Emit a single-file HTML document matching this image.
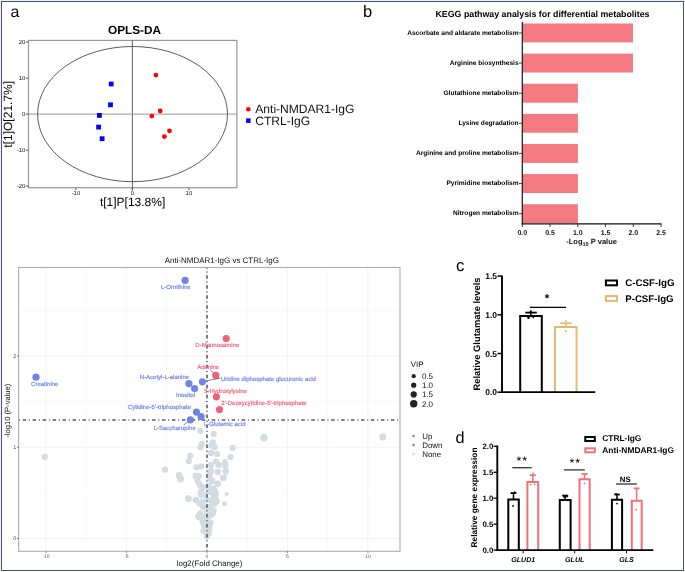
<!DOCTYPE html>
<html><head><meta charset="utf-8"><style>
html,body{margin:0;padding:0;background:#fff;}
body{width:685px;height:572px;overflow:hidden;}
svg{display:block;font-family:"Liberation Sans", sans-serif;text-rendering:geometricPrecision;will-change:transform;}
</style></head><body>
<svg width="685" height="572" viewBox="0 0 685 572">
<rect x="0" y="0" width="685" height="572" fill="#ffffff" stroke="none" stroke-width="1"/>
<rect x="0" y="0" width="685" height="1" fill="#eef0f4" stroke="none" stroke-width="1"/>
<rect x="0" y="0" width="1" height="572" fill="#eef0f4" stroke="none" stroke-width="1"/>
<rect x="1.5" y="1.5" width="682" height="569" fill="none" stroke="#4a5273" stroke-width="1"/>
<text x="10.4" y="16.7" font-size="16" text-anchor="start" fill="#000">a</text>
<text x="134.5" y="34.3" font-size="11.8" text-anchor="middle" fill="#000" font-weight="bold">OPLS-DA</text>
<rect x="28.5" y="40.4" width="208.4" height="147.3" fill="none" stroke="#979797" stroke-width="1.2"/>
<line x1="132.4" y1="40.5" x2="132.4" y2="190.5" stroke="#505050" stroke-width="0.9"/>
<line x1="28.5" y1="114.1" x2="236.9" y2="114.1" stroke="#979797" stroke-width="1"/>
<ellipse cx="132.55" cy="114.1" rx="94.95" ry="67.6" fill="none" stroke="#333" stroke-width="0.8"/>
<line x1="25.8" y1="42.099999999999994" x2="28.5" y2="42.099999999999994" stroke="#444" stroke-width="0.9"/>
<text x="25.4" y="44.199999999999996" font-size="5.9" text-anchor="end" fill="#111">20</text>
<line x1="25.8" y1="78.1" x2="28.5" y2="78.1" stroke="#444" stroke-width="0.9"/>
<text x="25.4" y="80.19999999999999" font-size="5.9" text-anchor="end" fill="#111">10</text>
<line x1="25.8" y1="114.1" x2="28.5" y2="114.1" stroke="#444" stroke-width="0.9"/>
<text x="25.4" y="116.19999999999999" font-size="5.9" text-anchor="end" fill="#111">0</text>
<line x1="25.8" y1="150.1" x2="28.5" y2="150.1" stroke="#444" stroke-width="0.9"/>
<text x="25.4" y="152.2" font-size="5.9" text-anchor="end" fill="#111">-10</text>
<line x1="25.8" y1="186.1" x2="28.5" y2="186.1" stroke="#444" stroke-width="0.9"/>
<text x="25.4" y="188.2" font-size="5.9" text-anchor="end" fill="#111">-20</text>
<line x1="75.9" y1="187.7" x2="75.9" y2="190.2" stroke="#444" stroke-width="0.9"/>
<text x="75.9" y="194.6" font-size="5.9" text-anchor="middle" fill="#111">-10</text>
<line x1="132.4" y1="187.7" x2="132.4" y2="190.2" stroke="#444" stroke-width="0.9"/>
<text x="132.4" y="194.6" font-size="5.9" text-anchor="middle" fill="#111">0</text>
<line x1="188.9" y1="187.7" x2="188.9" y2="190.2" stroke="#444" stroke-width="0.9"/>
<text x="188.9" y="194.6" font-size="5.9" text-anchor="middle" fill="#111">10</text>
<text x="132.6" y="205.8" font-size="12" text-anchor="middle" fill="#000">t[1]P[13.8%]</text>
<text x="12.2" y="114.3" font-size="12" text-anchor="middle" fill="#000" transform="rotate(-90 12.2 114.3)">t[1]O[21.7%]</text>
<rect x="108.8" y="81.6" width="4.8" height="4.8" fill="#0000ff" stroke="none" stroke-width="1"/>
<rect x="108.1" y="102.39999999999999" width="4.8" height="4.8" fill="#0000ff" stroke="none" stroke-width="1"/>
<rect x="97.0" y="113.0" width="4.8" height="4.8" fill="#0000ff" stroke="none" stroke-width="1"/>
<rect x="96.19999999999999" y="124.69999999999999" width="4.8" height="4.8" fill="#0000ff" stroke="none" stroke-width="1"/>
<rect x="99.69999999999999" y="136.29999999999998" width="4.8" height="4.8" fill="#0000ff" stroke="none" stroke-width="1"/>
<circle cx="155.9" cy="75.1" r="2.4" fill="#ff0000"/>
<circle cx="160.2" cy="111.0" r="2.4" fill="#ff0000"/>
<circle cx="151.8" cy="116.1" r="2.4" fill="#ff0000"/>
<circle cx="169.5" cy="130.8" r="2.4" fill="#ff0000"/>
<circle cx="164.4" cy="136.6" r="2.4" fill="#ff0000"/>
<circle cx="248.3" cy="109.2" r="2.3" fill="#ff0000"/>
<rect x="246.1" y="118.4" width="4.5" height="4.5" fill="#0000ff" stroke="none" stroke-width="1"/>
<text x="255.3" y="113.1" font-size="12.05" text-anchor="start" fill="#111">Anti-NMDAR1-IgG</text>
<text x="255.3" y="124.5" font-size="12.05" text-anchor="start" fill="#111">CTRL-IgG</text>
<text x="363.0" y="16.8" font-size="16.5" text-anchor="start" fill="#000">b</text>
<text x="542.5" y="17.1" font-size="8.82" text-anchor="middle" fill="#000" font-weight="bold">KEGG pathway analysis for differential metabolites</text>
<rect x="522.8" y="23.5" width="110.2" height="18.9" fill="#f27a80" stroke="none" stroke-width="1"/>
<line x1="519" y1="32.95" x2="522.3" y2="32.95" stroke="#111" stroke-width="0.8"/>
<text x="518.6" y="34.75" font-size="6.6" text-anchor="end" fill="#000" font-weight="bold">Ascorbate and aldarate metabolism</text>
<rect x="522.8" y="53.620000000000005" width="110.2" height="18.9" fill="#f27a80" stroke="none" stroke-width="1"/>
<line x1="519" y1="63.07000000000001" x2="522.3" y2="63.07000000000001" stroke="#111" stroke-width="0.8"/>
<text x="518.6" y="64.87" font-size="6.6" text-anchor="end" fill="#000" font-weight="bold">Arginine biosynthesis</text>
<rect x="522.8" y="83.74000000000001" width="55.1" height="18.9" fill="#f27a80" stroke="none" stroke-width="1"/>
<line x1="519" y1="93.19000000000001" x2="522.3" y2="93.19000000000001" stroke="#111" stroke-width="0.8"/>
<text x="518.6" y="94.99000000000001" font-size="6.6" text-anchor="end" fill="#000" font-weight="bold">Glutathione metabolism</text>
<rect x="522.8" y="113.86" width="55.1" height="18.9" fill="#f27a80" stroke="none" stroke-width="1"/>
<line x1="519" y1="123.31" x2="522.3" y2="123.31" stroke="#111" stroke-width="0.8"/>
<text x="518.6" y="125.11" font-size="6.6" text-anchor="end" fill="#000" font-weight="bold">Lysine degradation</text>
<rect x="522.8" y="143.98000000000002" width="55.1" height="18.9" fill="#f27a80" stroke="none" stroke-width="1"/>
<line x1="519" y1="153.43" x2="522.3" y2="153.43" stroke="#111" stroke-width="0.8"/>
<text x="518.6" y="155.23000000000002" font-size="6.6" text-anchor="end" fill="#000" font-weight="bold">Arginine and proline metabolism</text>
<rect x="522.8" y="174.1" width="55.1" height="18.9" fill="#f27a80" stroke="none" stroke-width="1"/>
<line x1="519" y1="183.54999999999998" x2="522.3" y2="183.54999999999998" stroke="#111" stroke-width="0.8"/>
<text x="518.6" y="185.35" font-size="6.6" text-anchor="end" fill="#000" font-weight="bold">Pyrimidine metabolism</text>
<rect x="522.8" y="204.22" width="55.1" height="18.9" fill="#f27a80" stroke="none" stroke-width="1"/>
<line x1="519" y1="213.67" x2="522.3" y2="213.67" stroke="#111" stroke-width="0.8"/>
<text x="518.6" y="215.47" font-size="6.6" text-anchor="end" fill="#000" font-weight="bold">Nitrogen metabolism</text>
<line x1="522.3" y1="22" x2="522.3" y2="224.5" stroke="#111" stroke-width="1.2"/>
<line x1="521.8" y1="223.9" x2="661.5" y2="223.9" stroke="#111" stroke-width="1.3"/>
<line x1="522.3" y1="224" x2="522.3" y2="227" stroke="#111" stroke-width="0.8"/>
<text x="522.3" y="235" font-size="7" text-anchor="middle" fill="#111" font-weight="bold">0.0</text>
<line x1="550.05" y1="224" x2="550.05" y2="227" stroke="#111" stroke-width="0.8"/>
<text x="550.05" y="235" font-size="7" text-anchor="middle" fill="#111" font-weight="bold">0.5</text>
<line x1="577.8" y1="224" x2="577.8" y2="227" stroke="#111" stroke-width="0.8"/>
<text x="577.8" y="235" font-size="7" text-anchor="middle" fill="#111" font-weight="bold">1.0</text>
<line x1="605.55" y1="224" x2="605.55" y2="227" stroke="#111" stroke-width="0.8"/>
<text x="605.55" y="235" font-size="7" text-anchor="middle" fill="#111" font-weight="bold">1.5</text>
<line x1="633.3" y1="224" x2="633.3" y2="227" stroke="#111" stroke-width="0.8"/>
<text x="633.3" y="235" font-size="7" text-anchor="middle" fill="#111" font-weight="bold">2.0</text>
<line x1="661.05" y1="224" x2="661.05" y2="227" stroke="#111" stroke-width="0.8"/>
<text x="661.05" y="235" font-size="7" text-anchor="middle" fill="#111" font-weight="bold">2.5</text>
<text x="591.6" y="243.8" font-size="7.5" text-anchor="middle" font-weight="bold" fill="#111">-Log<tspan font-size="5.6" dy="2">10</tspan><tspan dy="-2"> P value</tspan></text>
<text x="456.0" y="270.8" font-size="16.8" text-anchor="start" fill="#000">c</text>
<line x1="497.5" y1="276.09999999999997" x2="502" y2="276.09999999999997" stroke="#000" stroke-width="1.5"/>
<text x="497" y="279.2" font-size="8.5" text-anchor="end" fill="#000" font-weight="bold">1.5</text>
<line x1="497.5" y1="314.79999999999995" x2="502" y2="314.79999999999995" stroke="#000" stroke-width="1.5"/>
<text x="497" y="317.9" font-size="8.5" text-anchor="end" fill="#000" font-weight="bold">1.0</text>
<line x1="497.5" y1="353.5" x2="502" y2="353.5" stroke="#000" stroke-width="1.5"/>
<text x="497" y="356.6" font-size="8.5" text-anchor="end" fill="#000" font-weight="bold">0.5</text>
<line x1="497.5" y1="392.2" x2="502" y2="392.2" stroke="#000" stroke-width="1.5"/>
<text x="497" y="395.3" font-size="8.5" text-anchor="end" fill="#000" font-weight="bold">0.0</text>
<path d="M520.2 392.2 V316 H541.8 V392.2" fill="none" stroke="#000" stroke-width="2"/>
<path d="M555 392.2 V327 H576.5 V392.2" fill="none" stroke="#eab674" stroke-width="2"/>
<line x1="502" y1="275.5" x2="502" y2="393" stroke="#000" stroke-width="1.9"/>
<line x1="501" y1="392.2" x2="595.3" y2="392.2" stroke="#000" stroke-width="1.8"/>
<line x1="530.8" y1="316" x2="530.8" y2="312.5" stroke="#000" stroke-width="1.5"/>
<line x1="525.2" y1="312.6" x2="536.8" y2="312.6" stroke="#000" stroke-width="1.8"/>
<circle cx="530.8" cy="311.3" r="1.1" fill="#000"/>
<circle cx="528.5" cy="317.8" r="1.3" fill="#000"/>
<circle cx="533.4" cy="317.3" r="0.9" fill="#000"/>
<line x1="566" y1="327" x2="566" y2="323.2" stroke="#eab674" stroke-width="1.5"/>
<line x1="560.3" y1="323.2" x2="571.5" y2="323.2" stroke="#eab674" stroke-width="1.8"/>
<circle cx="565.8" cy="320.9" r="1.0" fill="#eab674"/>
<circle cx="565.8" cy="331" r="1.0" fill="#eab674"/>
<line x1="529.8" y1="307.3" x2="566" y2="307.3" stroke="#000" stroke-width="1.3"/>
<text x="547.0" y="301.6" font-size="11.5" text-anchor="middle" fill="#000" font-weight="bold">*</text>
<text x="479.8" y="334" font-size="9.4" text-anchor="middle" fill="#000" font-weight="bold" transform="rotate(-90 479.8 334)">Relative Glutamate levels</text>
<rect x="605.9" y="280.5" width="11.1" height="4.8" fill="none" stroke="#000" stroke-width="2"/>
<rect x="605.9" y="296.1" width="11.1" height="4.8" fill="none" stroke="#eab674" stroke-width="2"/>
<text x="625.2" y="285.6" font-size="9.75" text-anchor="start" fill="#000" font-weight="bold">C-CSF-IgG</text>
<text x="625.2" y="301.5" font-size="9.7" text-anchor="start" fill="#000" font-weight="bold">P-CSF-IgG</text>
<text x="455.6" y="442.7" font-size="16.3" text-anchor="start" fill="#000">d</text>
<line x1="493.5" y1="446.3" x2="497.3" y2="446.3" stroke="#000" stroke-width="1.3"/>
<text x="493.3" y="449.0" font-size="7.8" text-anchor="end" fill="#000" font-weight="bold">2.0</text>
<line x1="493.5" y1="472.25" x2="497.3" y2="472.25" stroke="#000" stroke-width="1.3"/>
<text x="493.3" y="474.95" font-size="7.8" text-anchor="end" fill="#000" font-weight="bold">1.5</text>
<line x1="493.5" y1="498.20000000000005" x2="497.3" y2="498.20000000000005" stroke="#000" stroke-width="1.3"/>
<text x="493.3" y="500.90000000000003" font-size="7.8" text-anchor="end" fill="#000" font-weight="bold">1.0</text>
<line x1="493.5" y1="524.15" x2="497.3" y2="524.15" stroke="#000" stroke-width="1.3"/>
<text x="493.3" y="526.85" font-size="7.8" text-anchor="end" fill="#000" font-weight="bold">0.5</text>
<line x1="493.5" y1="550.1" x2="497.3" y2="550.1" stroke="#000" stroke-width="1.3"/>
<text x="493.3" y="552.8000000000001" font-size="7.8" text-anchor="end" fill="#000" font-weight="bold">0.0</text>
<text x="477" y="497.5" font-size="8.33" text-anchor="middle" fill="#000" font-weight="bold" transform="rotate(-90 477 497.5)">Relative gene expression</text>
<path d="M508.3 550.1 V499.4 H518.8 V550.1" fill="none" stroke="#000" stroke-width="2" stroke-linejoin="miter"/>
<path d="M527.4 550.1 V482.1 H538.2 V550.1" fill="none" stroke="#f0707a" stroke-width="2" stroke-linejoin="miter"/>
<path d="M559.8 550.1 V499.9 H570.6 V550.1" fill="none" stroke="#000" stroke-width="2" stroke-linejoin="miter"/>
<path d="M579.5 550.1 V479.3 H589.7 V550.1" fill="none" stroke="#f0707a" stroke-width="2" stroke-linejoin="miter"/>
<path d="M611.9 550.1 V499.8 H622.1 V550.1" fill="none" stroke="#000" stroke-width="2" stroke-linejoin="miter"/>
<path d="M631.8 550.1 V500.7 H641.7 V550.1" fill="none" stroke="#f0707a" stroke-width="2" stroke-linejoin="miter"/>
<line x1="497.3" y1="445.5" x2="497.3" y2="551" stroke="#000" stroke-width="1.9"/>
<line x1="496.3" y1="550.1" x2="653.3" y2="550.1" stroke="#000" stroke-width="1.8"/>
<line x1="513.5" y1="499" x2="513.5" y2="493.1" stroke="#000" stroke-width="1.5"/>
<line x1="510.5" y1="493.1" x2="516.5" y2="493.1" stroke="#000" stroke-width="1.8"/>
<line x1="532.8" y1="482" x2="532.8" y2="475.2" stroke="#f0707a" stroke-width="1.5"/>
<line x1="529.8" y1="475.2" x2="535.8" y2="475.2" stroke="#f0707a" stroke-width="1.8"/>
<line x1="565.2" y1="499.5" x2="565.2" y2="495.6" stroke="#000" stroke-width="1.5"/>
<line x1="562.2" y1="495.6" x2="568.2" y2="495.6" stroke="#000" stroke-width="1.8"/>
<line x1="584.6" y1="480" x2="584.6" y2="474.0" stroke="#f0707a" stroke-width="1.5"/>
<line x1="581.6" y1="474.0" x2="587.6" y2="474.0" stroke="#f0707a" stroke-width="1.8"/>
<line x1="617" y1="499.5" x2="617" y2="494.5" stroke="#000" stroke-width="1.5"/>
<line x1="614.2" y1="494.5" x2="619.8" y2="494.5" stroke="#000" stroke-width="1.8"/>
<line x1="636.6" y1="500.5" x2="636.6" y2="488.4" stroke="#f0707a" stroke-width="1.5"/>
<line x1="633.6" y1="488.4" x2="639.6" y2="488.4" stroke="#f0707a" stroke-width="1.8"/>
<circle cx="513.1" cy="506" r="0.9" fill="#000"/>
<circle cx="514.6" cy="492.2" r="0.9" fill="#000"/>
<circle cx="533" cy="473.5" r="0.9" fill="#f0707a"/>
<circle cx="530.5" cy="484.8" r="0.9" fill="#f0707a"/>
<circle cx="534.7" cy="484.3" r="0.9" fill="#f0707a"/>
<circle cx="584.5" cy="483.5" r="0.9" fill="#f0707a"/>
<circle cx="564" cy="497" r="0.9" fill="#000"/>
<circle cx="567" cy="496.5" r="0.9" fill="#000"/>
<circle cx="617" cy="503.6" r="0.9" fill="#000"/>
<circle cx="636.2" cy="509.7" r="0.9" fill="#f0707a"/>
<circle cx="616" cy="493.8" r="0.9" fill="#000"/>
<line x1="512.3" y1="467.7" x2="531.7" y2="467.7" stroke="#333" stroke-width="1.3"/>
<text x="522.2" y="465.4" font-size="12.5" text-anchor="middle" fill="#000" letter-spacing="0.8">**</text>
<line x1="564.1" y1="469.9" x2="584.8" y2="469.9" stroke="#333" stroke-width="1.3"/>
<text x="575.2" y="467.2" font-size="12.5" text-anchor="middle" fill="#000" letter-spacing="0.8">**</text>
<line x1="616.1" y1="484" x2="636.9" y2="484" stroke="#333" stroke-width="1.3"/>
<text x="625.2" y="481.9" font-size="7.8" text-anchor="middle" fill="#000" font-weight="bold">NS</text>
<line x1="523.2" y1="550.1" x2="523.2" y2="553.3" stroke="#000" stroke-width="1"/>
<text x="523.2" y="562.3" font-size="7.1" text-anchor="middle" fill="#000" font-weight="bold" font-style="italic">GLUD1</text>
<line x1="574.7" y1="550.1" x2="574.7" y2="553.3" stroke="#000" stroke-width="1"/>
<text x="574.7" y="562.3" font-size="7.1" text-anchor="middle" fill="#000" font-weight="bold" font-style="italic">GLUL</text>
<line x1="626.5" y1="550.1" x2="626.5" y2="553.3" stroke="#000" stroke-width="1"/>
<text x="626.5" y="562.3" font-size="7.1" text-anchor="middle" fill="#000" font-weight="bold" font-style="italic">GLS</text>
<rect x="585.3" y="437" width="9.5" height="4" fill="none" stroke="#000" stroke-width="2"/>
<rect x="585.3" y="448.3" width="9.5" height="4" fill="none" stroke="#f0707a" stroke-width="2"/>
<text x="602.3" y="441.2" font-size="8.4" text-anchor="start" fill="#000" font-weight="bold">CTRL-IgG</text>
<text x="602.3" y="453.3" font-size="8.38" text-anchor="start" fill="#000" font-weight="bold">Anti-NMDAR1-IgG</text>
<clipPath id="vc"><rect x="18.6" y="267.5" width="381.4" height="283.79999999999995"/></clipPath>
<line x1="45.900000000000006" y1="267.5" x2="45.900000000000006" y2="551.3" stroke="#ebebeb" stroke-width="0.6"/>
<line x1="86.14999999999999" y1="267.5" x2="86.14999999999999" y2="551.3" stroke="#f4f4f4" stroke-width="0.6"/>
<line x1="126.4" y1="267.5" x2="126.4" y2="551.3" stroke="#ebebeb" stroke-width="0.6"/>
<line x1="166.65" y1="267.5" x2="166.65" y2="551.3" stroke="#f4f4f4" stroke-width="0.6"/>
<line x1="206.9" y1="267.5" x2="206.9" y2="551.3" stroke="#ebebeb" stroke-width="0.6"/>
<line x1="247.15" y1="267.5" x2="247.15" y2="551.3" stroke="#f4f4f4" stroke-width="0.6"/>
<line x1="287.4" y1="267.5" x2="287.4" y2="551.3" stroke="#ebebeb" stroke-width="0.6"/>
<line x1="327.65000000000003" y1="267.5" x2="327.65000000000003" y2="551.3" stroke="#f4f4f4" stroke-width="0.6"/>
<line x1="367.9" y1="267.5" x2="367.9" y2="551.3" stroke="#ebebeb" stroke-width="0.6"/>
<line x1="18.6" y1="538.5" x2="400.0" y2="538.5" stroke="#ebebeb" stroke-width="0.6"/>
<line x1="18.6" y1="492.85" x2="400.0" y2="492.85" stroke="#f4f4f4" stroke-width="0.6"/>
<line x1="18.6" y1="447.2" x2="400.0" y2="447.2" stroke="#ebebeb" stroke-width="0.6"/>
<line x1="18.6" y1="401.55" x2="400.0" y2="401.55" stroke="#f4f4f4" stroke-width="0.6"/>
<line x1="18.6" y1="355.9" x2="400.0" y2="355.9" stroke="#ebebeb" stroke-width="0.6"/>
<line x1="18.6" y1="310.25" x2="400.0" y2="310.25" stroke="#f4f4f4" stroke-width="0.6"/>
<g clip-path="url(#vc)">
<circle cx="200.4" cy="430.8" r="3.1" fill="#d3dbe3"/>
<circle cx="213.7" cy="433.9" r="3.1" fill="#d3dbe3"/>
<circle cx="201.8" cy="443.8" r="3.1" fill="#d3dbe3"/>
<circle cx="200.4" cy="447.3" r="3.1" fill="#d3dbe3"/>
<circle cx="212.9" cy="442.3" r="3.1" fill="#d3dbe3"/>
<circle cx="211.4" cy="445.7" r="3.1" fill="#d3dbe3"/>
<circle cx="214.8" cy="447.1" r="3.1" fill="#d3dbe3"/>
<circle cx="232.6" cy="447.9" r="3.1" fill="#d3dbe3"/>
<circle cx="211" cy="452.9" r="3.1" fill="#d3dbe3"/>
<circle cx="217.2" cy="454" r="3.1" fill="#d3dbe3"/>
<circle cx="190.3" cy="455.6" r="3.1" fill="#d3dbe3"/>
<circle cx="188.8" cy="461.1" r="3.1" fill="#d3dbe3"/>
<circle cx="230.4" cy="457" r="3.1" fill="#d3dbe3"/>
<circle cx="216" cy="461.5" r="3.1" fill="#d3dbe3"/>
<circle cx="224.9" cy="462" r="3.1" fill="#d3dbe3"/>
<circle cx="218.7" cy="464.9" r="3.1" fill="#d3dbe3"/>
<circle cx="211" cy="464.9" r="3.1" fill="#d3dbe3"/>
<circle cx="225.4" cy="465.9" r="3.1" fill="#d3dbe3"/>
<circle cx="196.5" cy="467.3" r="3.1" fill="#d3dbe3"/>
<circle cx="201.3" cy="466.3" r="3.1" fill="#d3dbe3"/>
<circle cx="211" cy="471.2" r="3.1" fill="#d3dbe3"/>
<circle cx="217.7" cy="471.8" r="3.1" fill="#d3dbe3"/>
<circle cx="225.9" cy="471.3" r="3.1" fill="#d3dbe3"/>
<circle cx="196.1" cy="476" r="3.1" fill="#d3dbe3"/>
<circle cx="198.5" cy="476" r="3.1" fill="#d3dbe3"/>
<circle cx="209.5" cy="476" r="3.1" fill="#d3dbe3"/>
<circle cx="223.5" cy="477.7" r="3.1" fill="#d3dbe3"/>
<circle cx="210.5" cy="479.3" r="3.1" fill="#d3dbe3"/>
<circle cx="264" cy="437.7" r="3.7" fill="#d3dbe3"/>
<circle cx="382.7" cy="436.9" r="3.5" fill="#d3dbe3"/>
<circle cx="44.8" cy="456.9" r="3.1" fill="#d3dbe3"/>
<circle cx="165" cy="469.6" r="3.1" fill="#d3dbe3"/>
<circle cx="179" cy="475.5" r="3.1" fill="#d3dbe3"/>
<circle cx="180.7" cy="478.4" r="3.1" fill="#d3dbe3"/>
<circle cx="178.9" cy="475.2" r="3.1" fill="#d3dbe3"/>
<circle cx="180.5" cy="479.2" r="3.1" fill="#d3dbe3"/>
<circle cx="195.6" cy="475.9" r="3.1" fill="#d3dbe3"/>
<circle cx="198.2" cy="476.6" r="3.1" fill="#d3dbe3"/>
<circle cx="197.5" cy="481.1" r="3.1" fill="#d3dbe3"/>
<circle cx="199.5" cy="484.4" r="3.1" fill="#d3dbe3"/>
<circle cx="202.8" cy="487.7" r="3.1" fill="#d3dbe3"/>
<circle cx="200.8" cy="492.3" r="3.1" fill="#d3dbe3"/>
<circle cx="203.4" cy="494.9" r="3.1" fill="#d3dbe3"/>
<circle cx="188.4" cy="498.6" r="3.4" fill="#d3dbe3"/>
<circle cx="196" cy="500.2" r="3.1" fill="#d3dbe3"/>
<circle cx="199.5" cy="503.4" r="3.1" fill="#d3dbe3"/>
<circle cx="202.8" cy="501.5" r="3.1" fill="#d3dbe3"/>
<circle cx="203.4" cy="507.4" r="3.1" fill="#d3dbe3"/>
<circle cx="200.2" cy="513.3" r="3.1" fill="#d3dbe3"/>
<circle cx="198.2" cy="516.6" r="3.1" fill="#d3dbe3"/>
<circle cx="201.5" cy="518.5" r="3.1" fill="#d3dbe3"/>
<circle cx="202.8" cy="522.5" r="3.1" fill="#d3dbe3"/>
<circle cx="204.1" cy="526.4" r="3.1" fill="#d3dbe3"/>
<circle cx="203.4" cy="531" r="3.1" fill="#d3dbe3"/>
<circle cx="206.7" cy="536.2" r="3.1" fill="#d3dbe3"/>
<circle cx="210" cy="472" r="3.1" fill="#d3dbe3"/>
<circle cx="217.9" cy="472" r="3.1" fill="#d3dbe3"/>
<circle cx="225.7" cy="471.6" r="3.1" fill="#d3dbe3"/>
<circle cx="223.1" cy="478.1" r="3.1" fill="#d3dbe3"/>
<circle cx="212" cy="481.1" r="3.1" fill="#d3dbe3"/>
<circle cx="217.9" cy="483.8" r="3.1" fill="#d3dbe3"/>
<circle cx="213.3" cy="488.4" r="3.1" fill="#d3dbe3"/>
<circle cx="215.9" cy="493.6" r="3.1" fill="#d3dbe3"/>
<circle cx="214.6" cy="497.5" r="3.1" fill="#d3dbe3"/>
<circle cx="216.6" cy="501.5" r="3.1" fill="#d3dbe3"/>
<circle cx="212" cy="504.1" r="3.1" fill="#d3dbe3"/>
<circle cx="213.3" cy="512" r="3.1" fill="#d3dbe3"/>
<circle cx="210.7" cy="508" r="3.1" fill="#d3dbe3"/>
<circle cx="209.3" cy="515.9" r="3.1" fill="#d3dbe3"/>
<circle cx="210" cy="523.1" r="3.1" fill="#d3dbe3"/>
<circle cx="209.3" cy="527.7" r="3.1" fill="#d3dbe3"/>
<circle cx="208.7" cy="533" r="3.1" fill="#d3dbe3"/>
<circle cx="226.7" cy="494" r="2.0" fill="#d3dbe3"/>
<circle cx="224.4" cy="503.8" r="2.5" fill="#d3dbe3"/>
<circle cx="223.3" cy="478.1" r="3.1" fill="#d3dbe3"/>
<circle cx="217.7" cy="483.6" r="3.1" fill="#d3dbe3"/>
<circle cx="212.2" cy="480.5" r="3.1" fill="#d3dbe3"/>
<circle cx="214.7" cy="490.9" r="3.1" fill="#d3dbe3"/>
<circle cx="215.9" cy="495.2" r="3.1" fill="#d3dbe3"/>
<circle cx="216.5" cy="500.7" r="3.1" fill="#d3dbe3"/>
<circle cx="214.7" cy="503.8" r="3.1" fill="#d3dbe3"/>
<circle cx="213.5" cy="510.5" r="3.1" fill="#d3dbe3"/>
<circle cx="212.2" cy="514.2" r="3.1" fill="#d3dbe3"/>
<circle cx="210.4" cy="522.7" r="3.1" fill="#d3dbe3"/>
<circle cx="209.2" cy="528.9" r="3.1" fill="#d3dbe3"/>
<circle cx="207.3" cy="535" r="3.1" fill="#d3dbe3"/>
<circle cx="201.8" cy="487.2" r="3.1" fill="#d3dbe3"/>
<circle cx="201.2" cy="495.2" r="3.1" fill="#d3dbe3"/>
<circle cx="202.4" cy="504.4" r="3.1" fill="#d3dbe3"/>
<circle cx="202.4" cy="516.6" r="3.1" fill="#d3dbe3"/>
<circle cx="203.7" cy="531.3" r="3.1" fill="#d3dbe3"/>
<circle cx="195.7" cy="500.1" r="3.1" fill="#d3dbe3"/>
<circle cx="198.8" cy="516.6" r="3.1" fill="#d3dbe3"/>
<circle cx="208" cy="486" r="3.1" fill="#d3dbe3"/>
<circle cx="208.5" cy="492" r="3.1" fill="#d3dbe3"/>
<circle cx="207.5" cy="500" r="3.1" fill="#d3dbe3"/>
<circle cx="208" cy="507" r="3.1" fill="#d3dbe3"/>
<circle cx="207" cy="513" r="3.1" fill="#d3dbe3"/>
<circle cx="206" cy="520" r="3.1" fill="#d3dbe3"/>
<circle cx="206" cy="525" r="3.1" fill="#d3dbe3"/>
<circle cx="207" cy="530" r="3.1" fill="#d3dbe3"/>
<circle cx="213.5" cy="495.5" r="3.1" fill="#d3dbe3"/>
<circle cx="212" cy="490" r="3.1" fill="#d3dbe3"/>
<circle cx="212.5" cy="500" r="3.1" fill="#d3dbe3"/>
<line x1="18.6" y1="420" x2="400.0" y2="420" stroke="#5a5a5a" stroke-width="1.6" stroke-dasharray="1 2.7 3.5 2.75" stroke-dashoffset="-0.4"/>
<line x1="207" y1="267.5" x2="207" y2="551.3" stroke="#5a5a5a" stroke-width="1.6" stroke-dasharray="3.5 2.7 1 2.75" stroke-dashoffset="2.15"/>
<circle cx="185.1" cy="280.3" r="3.6" fill="#7084e6"/>
<circle cx="36" cy="377.2" r="3.6" fill="#7084e6"/>
<circle cx="188.9" cy="383.6" r="3.6" fill="#7084e6"/>
<circle cx="202.4" cy="381.8" r="3.6" fill="#7084e6"/>
<circle cx="194.6" cy="388.5" r="3.6" fill="#7084e6"/>
<circle cx="196.5" cy="412.1" r="3.6" fill="#7084e6"/>
<circle cx="201.1" cy="416.6" r="3.6" fill="#7084e6"/>
<circle cx="190.4" cy="419.8" r="3.6" fill="#7084e6"/>
<circle cx="226.2" cy="338.5" r="3.6" fill="#ef6277"/>
<circle cx="215.8" cy="375.4" r="3.6" fill="#ef6277"/>
<circle cx="216.4" cy="396.8" r="3.6" fill="#ef6277"/>
<circle cx="219.5" cy="409.6" r="3.6" fill="#ef6277"/>
<line x1="209.9" y1="369.3" x2="213.6" y2="373.3" stroke="#333" stroke-width="0.6"/>
<line x1="206" y1="380.9" x2="220.3" y2="378.2" stroke="#333" stroke-width="0.6"/>
<line x1="183.6" y1="425" x2="187.9" y2="421.9" stroke="#333" stroke-width="0.6"/>
</g>
<text x="161" y="289.0" font-size="6" text-anchor="start" fill="#7084e6" stroke="#7084e6" stroke-width="0.18">L-Ornithine</text>
<text x="31.1" y="385.9" font-size="6" text-anchor="start" fill="#7084e6" stroke="#7084e6" stroke-width="0.18">Creatinine</text>
<text x="195.3" y="347.3" font-size="6" text-anchor="start" fill="#ef6277" stroke="#ef6277" stroke-width="0.18">D-Mannosamine</text>
<text x="197.2" y="368.6" font-size="6" text-anchor="start" fill="#ef6277" stroke="#ef6277" stroke-width="0.18">Adenine</text>
<text x="220.9" y="380.5" font-size="6" text-anchor="start" fill="#7084e6" stroke="#7084e6" stroke-width="0.18">Uridine diphosphate glucuronic acid</text>
<text x="189.1" y="379.0" font-size="6" text-anchor="end" fill="#7084e6" stroke="#7084e6" stroke-width="0.18">N-Acetyl-L-alanine</text>
<text x="176" y="396.8" font-size="6" text-anchor="start" fill="#7084e6" stroke="#7084e6" stroke-width="0.18">Inositol</text>
<text x="204.2" y="392.5" font-size="6" text-anchor="start" fill="#ef6277" stroke="#ef6277" stroke-width="0.18">5-Hydroxylysine</text>
<text x="221.3" y="405.2" font-size="6" text-anchor="start" fill="#ef6277" stroke="#ef6277" stroke-width="0.18">2'-Deoxycytidine-5'-triphosphate</text>
<text x="191" y="409.0" font-size="6" text-anchor="end" fill="#7084e6" stroke="#7084e6" stroke-width="0.18">Cytidine-5'-triphosphate</text>
<text x="153.7" y="430.2" font-size="6" text-anchor="start" fill="#7084e6" stroke="#7084e6" stroke-width="0.18">L-Saccharopine</text>
<text x="203.8" y="425.8" font-size="6" text-anchor="start" fill="#7084e6" stroke="#7084e6" stroke-width="0.18">L-Glutamic acid</text>
<rect x="18.6" y="267.5" width="381.4" height="283.79999999999995" fill="none" stroke="#adadad" stroke-width="1.1"/>
<line x1="17.0" y1="538.5" x2="18.6" y2="538.5" stroke="#555" stroke-width="0.8"/>
<text x="16.200000000000003" y="540.4" font-size="5.4" text-anchor="end" fill="#4a4a4a">0</text>
<line x1="17.0" y1="447.2" x2="18.6" y2="447.2" stroke="#555" stroke-width="0.8"/>
<text x="16.200000000000003" y="449.09999999999997" font-size="5.4" text-anchor="end" fill="#4a4a4a">1</text>
<line x1="17.0" y1="355.9" x2="18.6" y2="355.9" stroke="#555" stroke-width="0.8"/>
<text x="16.200000000000003" y="357.79999999999995" font-size="5.4" text-anchor="end" fill="#4a4a4a">2</text>
<line x1="45.900000000000006" y1="551.3" x2="45.900000000000006" y2="552.9" stroke="#555" stroke-width="0.8"/>
<text x="45.900000000000006" y="557.8" font-size="5.0" text-anchor="middle" fill="#555">-10</text>
<line x1="126.4" y1="551.3" x2="126.4" y2="552.9" stroke="#555" stroke-width="0.8"/>
<text x="126.4" y="557.8" font-size="5.0" text-anchor="middle" fill="#555">-5</text>
<line x1="206.9" y1="551.3" x2="206.9" y2="552.9" stroke="#555" stroke-width="0.8"/>
<text x="206.9" y="557.8" font-size="5.0" text-anchor="middle" fill="#555">0</text>
<line x1="287.4" y1="551.3" x2="287.4" y2="552.9" stroke="#555" stroke-width="0.8"/>
<text x="287.4" y="557.8" font-size="5.0" text-anchor="middle" fill="#555">5</text>
<line x1="367.9" y1="551.3" x2="367.9" y2="552.9" stroke="#555" stroke-width="0.8"/>
<text x="367.9" y="557.8" font-size="5.0" text-anchor="middle" fill="#555">10</text>
<text x="221.8" y="263.1" font-size="7.97" text-anchor="middle" fill="#111">Anti-NMDAR1-IgG vs CTRL-IgG</text>
<text x="209.6" y="566.3" font-size="7.93" text-anchor="middle" fill="#111">log2(Fold Change)</text>
<text x="10.5" y="410.7" font-size="7.6" text-anchor="middle" fill="#111" transform="rotate(-90 10.5 410.7)">-log10 (P-value)</text>
<text x="410.8" y="366.5" font-size="7.9" text-anchor="start" fill="#111">VIP</text>
<circle cx="413.7" cy="376.2" r="2.1" fill="#222"/>
<text x="421.9" y="379.0" font-size="8" text-anchor="start" fill="#111">0.5</text>
<circle cx="413.7" cy="385.2" r="2.6" fill="#222"/>
<text x="421.9" y="388.0" font-size="8" text-anchor="start" fill="#111">1.0</text>
<circle cx="413.7" cy="394.4" r="3.1" fill="#222"/>
<text x="421.9" y="397.2" font-size="8" text-anchor="start" fill="#111">1.5</text>
<circle cx="413.7" cy="403.7" r="3.7" fill="#222"/>
<text x="421.9" y="406.5" font-size="8" text-anchor="start" fill="#111">2.0</text>
<circle cx="413.5" cy="436.1" r="1.3" fill="#ef6277"/>
<text x="422.2" y="438.90000000000003" font-size="7.95" text-anchor="start" fill="#111">Up</text>
<circle cx="413.5" cy="445.1" r="1.3" fill="#7084e6"/>
<text x="422.2" y="447.90000000000003" font-size="7.95" text-anchor="start" fill="#111">Down</text>
<circle cx="413.5" cy="454.1" r="1.3" fill="#d3dbe3"/>
<text x="422.2" y="456.90000000000003" font-size="7.95" text-anchor="start" fill="#111">None</text>
</svg>
</body></html>
